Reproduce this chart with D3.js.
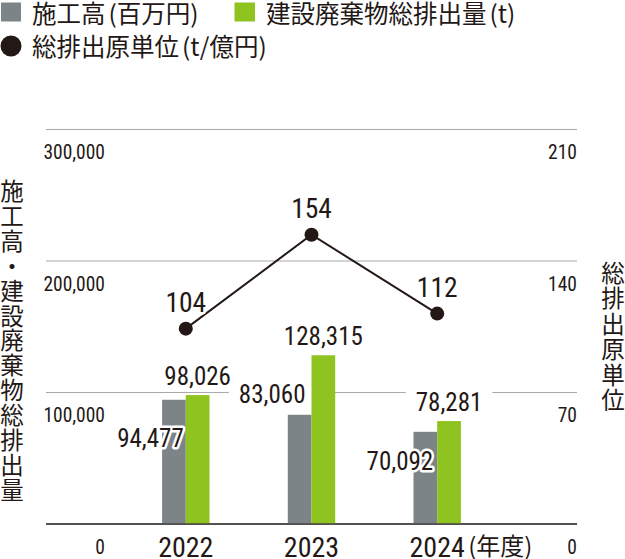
<!DOCTYPE html>
<html lang="ja">

<head>
    <meta charset="UTF-8">
    <meta name="viewport" content="width=device-width, initial-scale=1.0">
    <script src="https://cdnjs.cloudflare.com/ajax/libs/d3/7.8.5/d3.min.js"></script>
    <title>施工高・建設廃棄物総排出量</title>
    <style>
        body {
            margin: 0;
            background: #fff;
        }

        svg {
            display: block;
        }
    </style>
</head>

<body>
    <div id="plot"></div>
</body>

<script>
    // data
    var years = ['2022', '2023', '2024'];
    var sekoudaka = [94477, 83060, 70092];      // 施工高 (百万円)
    var haikibutsu = [98026, 128315, 78281];    // 建設廃棄物総排出量 (t)
    var genTani = [104, 154, 112];              // 総排出原単位 (t/億円)
    var leftTicks = [0, 100000, 200000, 300000];
    var rightTicks = [0, 70, 140, 210];

    var W = 625, H = 559;
    var numFont = '"Liberation Sans Narrow", "Arial Narrow", "Roboto Condensed", sans-serif';
    var jpFont = '"Noto Sans CJK JP", "Noto Sans CJK SC", sans-serif';
    var ink = '#231815';
    var grayCol = '#7d8487';
    var greenCol = '#8fc31f';

    var svg = d3.select('#plot')
        .append('svg')
        .attr('width', W)
        .attr('height', H);

    // scales
    var plotL = 46, plotR = 577, y0 = 524, yTop = 129.5;
    var x = d3.scalePoint().domain(years).range([plotL, plotR]).padding(1.112);
    var yL = d3.scaleLinear().domain([0, 300000]).range([y0, yTop]);
    var yR = d3.scaleLinear().domain([0, 210]).range([y0, yTop]);
    var barW = 23.7;

    // (1) grid lines ______________________________
    svg.append('g')
        .selectAll('line')
        .data(leftTicks)
        .join('line')
        .attr('x1', plotL)
        .attr('x2', plotR)
        .attr('y1', d => yL(d))
        .attr('y2', d => yL(d))
        .attr('stroke', d => d === 0 ? '#4a4646' : '#a9a9a9')
        .attr('stroke-width', d => d === 0 ? 1.6 : 1.2);

    // tick labels sit below their line
    svg.append('g')
        .selectAll('text')
        .data(leftTicks)
        .join('text')
        .attr('x', 105)
        .attr('y', d => yL(d) + 29.5)
        .attr('text-anchor', 'end')
        .style('font-family', numFont)
        .style('font-size', '19.5px')
        .style('fill', ink)
        .text(d => d3.format(',')(d));

    svg.append('g')
        .selectAll('text')
        .data(rightTicks)
        .join('text')
        .attr('x', plotR)
        .attr('y', d => yR(d) + 29.5)
        .attr('text-anchor', 'end')
        .style('font-family', numFont)
        .style('font-size', '19.5px')
        .style('fill', ink)
        .text(d => d);

    // white patches under some labels (they break the grid line), drawn below the bars
    var bgLayer = svg.append('g');

    // (2) bars ____________________________________
    var bars = svg.append('g');
    bars.selectAll('rect.gray')
        .data(years)
        .join('rect')
        .attr('class', 'gray')
        .attr('x', d => x(d) - barW)
        .attr('y', (d, i) => yL(sekoudaka[i]))
        .attr('width', barW)
        .attr('height', (d, i) => y0 - yL(sekoudaka[i]))
        .attr('fill', grayCol);
    bars.selectAll('rect.green')
        .data(years)
        .join('rect')
        .attr('class', 'green')
        .attr('x', d => x(d))
        .attr('y', (d, i) => yL(haikibutsu[i]))
        .attr('width', barW)
        .attr('height', (d, i) => y0 - yL(haikibutsu[i]))
        .attr('fill', greenCol);

    // baseline again on top of the bars
    svg.append('line')
        .attr('x1', plotL).attr('x2', plotR)
        .attr('y1', yL(0)).attr('y2', yL(0))
        .attr('stroke', '#4a4646')
        .attr('stroke-width', 1.6);

    // (3) bar value labels ________________________
    var fmt = d3.format(',');
    // gray labels are placed by hand: baseline offset from bar top, right edge offset from bar right
    var grayDy = [47, -12, 38];
    var grayDx = [-2, -6, -4];

    function numLabel(g, tx, ty, anchor, size, txt, mode) {
        var t = g.append('text')
            .attr('x', tx)
            .attr('y', ty)
            .attr('text-anchor', anchor)
            .style('font-family', numFont)
            .style('font-size', size + 'px')
            .style('fill', ink)
            .text(txt);
        if (mode === 'halo') {
            t.attr('stroke', '#fff')
                .attr('stroke-width', 5)
                .attr('stroke-linejoin', 'round')
                .attr('paint-order', 'stroke');
        } else if (mode === 'box') {
            var bb = t.node().getBBox();
            bgLayer.append('rect')
                .attr('x', bb.x - 10)
                .attr('y', ty - size * 0.8)
                .attr('width', bb.width + 20)
                .attr('height', size * 0.8 + 4)
                .attr('fill', '#fff');
        }
        return t;
    }

    var lab = svg.append('g');
    years.forEach(function (yr, i) {
        var top = yL(sekoudaka[i]);
        var inside = grayDy[i] > 0;
        numLabel(lab, x(yr) + grayDx[i], top + grayDy[i], 'end', 25,
            fmt(sekoudaka[i]), inside ? 'halo' : 'box');
        numLabel(lab, x(yr) + barW / 2, yL(haikibutsu[i]) - 10, 'middle', 25,
            fmt(haikibutsu[i]), 'box');
    });

    // (4) line ____________________________________
    var line = d3.line()
        .x((d, i) => x(years[i]))
        .y(d => yR(d));
    svg.append('path')
        .datum(genTani)
        .attr('d', line)
        .attr('fill', 'none')
        .attr('stroke', ink)
        .attr('stroke-width', 2);
    svg.append('g')
        .selectAll('circle')
        .data(genTani)
        .join('circle')
        .attr('cx', (d, i) => x(years[i]))
        .attr('cy', d => yR(d))
        .attr('r', 7)
        .attr('fill', ink);
    var lineLab = svg.append('g');
    genTani.forEach(function (v, i) {
        numLabel(lineLab, x(years[i]), yR(v) - 17, 'middle', 27.5, v, 'halo');
    });

    // (5) category labels _________________________
    svg.append('g')
        .selectAll('text')
        .data(years)
        .join('text')
        .attr('x', d => x(d))
        .attr('y', 556.5)
        .attr('text-anchor', 'middle')
        .style('font-family', numFont)
        .style('font-size', '28px')
        .style('fill', ink)
        .text(d => d);
    svg.append('text')
        .attr('x', x(years[years.length - 1]) + 31)
        .attr('y', 555)
        .style('font-family', jpFont)
        .style('font-size', '24px')
        .style('fill', ink)
        .text('(年度)');

    // (6) legend __________________________________
    var leg = svg.append('g').style('font-family', jpFont).style('font-size', '24.5px').style('fill', ink);

    // legend text with a little air before the bracket
    function legText(tx, ty, main, unit) {
        var t = leg.append('text').attr('x', tx).attr('y', ty);
        t.append('tspan').text(main);
        t.append('tspan').attr('dx', 3).text('(' + unit + ')');
    }
    leg.append('rect').attr('x', 1).attr('y', 2.5).attr('width', 20).attr('height', 19).attr('fill', grayCol);
    legText(32, 23, '施工高', '百万円');
    leg.append('rect').attr('x', 234.5).attr('y', 2.5).attr('width', 20.5).attr('height', 19).attr('fill', greenCol);
    legText(266, 23, '建設廃棄物総排出量', 't');
    leg.append('circle').attr('cx', 11).attr('cy', 46).attr('r', 10.5).attr('fill', ink);
    legText(32, 56, '総排出原単位', 't/億円');

    // (7) vertical axis titles ____________________
    function vTitle(str, cx, cy0, pitch) {
        svg.append('g')
            .selectAll('text')
            .data(Array.from(str))
            .join('text')
            .attr('x', cx)
            .attr('y', (d, i) => cy0 + i * pitch)
            .attr('text-anchor', 'middle')
            .attr('dominant-baseline', 'central')
            .style('font-family', jpFont)
            .style('font-size', '23.5px')
            .style('fill', ink)
            .text(d => d);
    }
    vTitle('施工高・建設廃棄物総排出量', 12, 190, 24.9);
    vTitle('総排出原単位', 613, 272, 25.4);
</script>

</html>
